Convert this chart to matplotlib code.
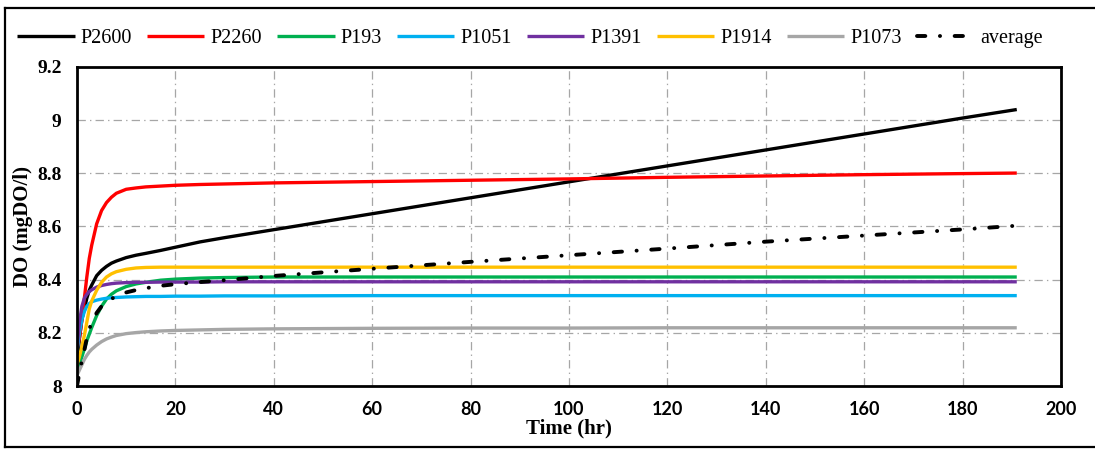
import matplotlib
matplotlib.use("Agg")
import matplotlib.pyplot as plt
from matplotlib.lines import Line2D

# Time axis (hours)
time_hr = [0, 0.5, 1, 1.5, 2, 2.5, 3, 4, 5, 6, 7, 8, 10, 12, 14, 17, 20, 25, 30,
           40, 60, 80, 100, 120, 140, 160, 180, 191]

# Dissolved oxygen (mgDO/l) at each station
p2600 = [8.08, 8.18, 8.25, 8.29, 8.33, 8.36, 8.38, 8.415, 8.435, 8.45, 8.462, 8.47,
         8.483, 8.492, 8.499, 8.51, 8.522, 8.542, 8.558, 8.588, 8.648, 8.708, 8.768,
         8.828, 8.888, 8.948, 9.008, 9.04]
p2260 = [8.14, 8.18, 8.25, 8.33, 8.41, 8.48, 8.53, 8.61, 8.66, 8.69, 8.71, 8.725,
         8.74, 8.745, 8.749, 8.752, 8.755, 8.758, 8.76, 8.764, 8.769, 8.774, 8.779,
         8.785, 8.79, 8.795, 8.799, 8.801]
p193 = [8.06, 8.08, 8.11, 8.14, 8.17, 8.195, 8.22, 8.265, 8.30, 8.327, 8.345, 8.358,
        8.374, 8.384, 8.39, 8.398, 8.402, 8.406, 8.408, 8.41, 8.41, 8.41, 8.41,
        8.41, 8.41, 8.41, 8.41, 8.41]
p1051 = [8.13, 8.20, 8.25, 8.28, 8.30, 8.31, 8.317, 8.323, 8.327, 8.33, 8.332, 8.333,
         8.335, 8.336, 8.337, 8.337, 8.338, 8.338, 8.339, 8.339, 8.34, 8.34, 8.34,
         8.34, 8.34, 8.34, 8.34, 8.34]
p1391 = [8.14, 8.24, 8.30, 8.33, 8.345, 8.355, 8.362, 8.372, 8.378, 8.382, 8.385,
         8.387, 8.389, 8.39, 8.39, 8.391, 8.391, 8.391, 8.392, 8.392, 8.392, 8.392,
         8.392, 8.392, 8.392, 8.392, 8.392, 8.392]
p1914 = [8.08, 8.11, 8.15, 8.19, 8.24, 8.29, 8.32, 8.36, 8.39, 8.41, 8.422, 8.43,
         8.439, 8.444, 8.446, 8.447, 8.447, 8.447, 8.447, 8.447, 8.447, 8.447, 8.447,
         8.447, 8.447, 8.447, 8.447, 8.447]
p1073 = [8.04, 8.06, 8.08, 8.10, 8.115, 8.128, 8.138, 8.154, 8.167, 8.177, 8.184,
         8.19, 8.197, 8.201, 8.204, 8.207, 8.209, 8.211, 8.213, 8.215, 8.217, 8.218,
         8.218, 8.219, 8.219, 8.219, 8.219, 8.219]
average = [8.0, 8.05, 8.095, 8.135, 8.18, 8.215, 8.238, 8.275, 8.30, 8.316, 8.328,
           8.337, 8.352, 8.361, 8.368, 8.377, 8.383, 8.391, 8.398, 8.414, 8.441,
           8.467, 8.492, 8.517, 8.543, 8.566, 8.589, 8.603]

series_names = ["P2600", "P2260", "P193", "P1051", "P1391", "P1914", "P1073"]
series_values = [p2600, p2260, p193, p1051, p1391, p1914, p1073]
series_colors = ["#000000", "#FF0000", "#00B050", "#00B0F0", "#7030A0", "#FFC000", "#A6A6A6"]

x_ticks = list(range(0, 201, 20))
y_ticks = [8.0, 8.2, 8.4, 8.6, 8.8, 9.0, 9.2]
y_tick_labels = ["8", "8.2", "8.4", "8.6", "8.8", "9", "9.2"]

plt.rcParams["lines.scale_dashes"] = False
serif = "Liberation Serif"

fig = plt.figure(figsize=(10.95, 4.49), dpi=100)
ax = fig.add_axes([0.0703, 0.1403, 0.8987, 0.7105])

for name, vals, col in zip(series_names, series_values, series_colors):
    ax.plot(time_hr, vals, color=col, lw=2.4, label=name, solid_capstyle="butt")

ax.plot(time_hr, average, color="black", lw=2.8, label="average",
        linestyle=(0, (6, 10.5, 0.1, 10.5)), dash_capstyle="round")

ax.set_xlim(0, 200)
ax.set_ylim(8.0, 9.2)
ax.set_xticks(x_ticks)
ax.set_yticks(y_ticks)
ax.set_yticklabels(y_tick_labels)

ax.grid(True, color="#A6A6A6", lw=0.9, linestyle=(0, (6, 3, 1, 3)))
ax.set_axisbelow(True)

ax.tick_params(axis="both", length=0)
ax.tick_params(axis="x", pad=11)
ax.tick_params(axis="y", pad=11)
for lbl in ax.get_xticklabels():
    lbl.set_fontfamily("Lato")
    lbl.set_fontweight("bold")
    lbl.set_fontsize(13)
for lbl in ax.get_yticklabels():
    lbl.set_fontfamily(serif)
    lbl.set_fontweight("bold")
    lbl.set_fontsize(14)

for sp in ax.spines.values():
    sp.set_linewidth(2.0)
    sp.set_color("black")

ax.set_xlabel("Time (hr)", fontfamily=serif, fontweight="bold", fontsize=15, labelpad=0)
ax.set_ylabel("DO (mgDO/l)", fontfamily=serif, fontweight="bold", fontsize=15, labelpad=3)

leg = fig.legend(loc="center", bbox_to_anchor=(0.484, 0.915), ncol=8, frameon=False,
                 prop={"family": serif, "size": 14.5}, handlelength=2.85,
                 handletextpad=0.3, columnspacing=0.75)

# Outer frame around the whole figure
frame_kw = dict(color="black", lw=1.6, transform=fig.transFigure)
fig.add_artist(Line2D([0.005, 1.0], [0.982, 0.982], **frame_kw))
fig.add_artist(Line2D([0.005, 1.0], [0.005, 0.005], **frame_kw))
fig.add_artist(Line2D([0.005, 0.005], [0.005, 0.982], **frame_kw))

fig.savefig("out.png", dpi=100)
